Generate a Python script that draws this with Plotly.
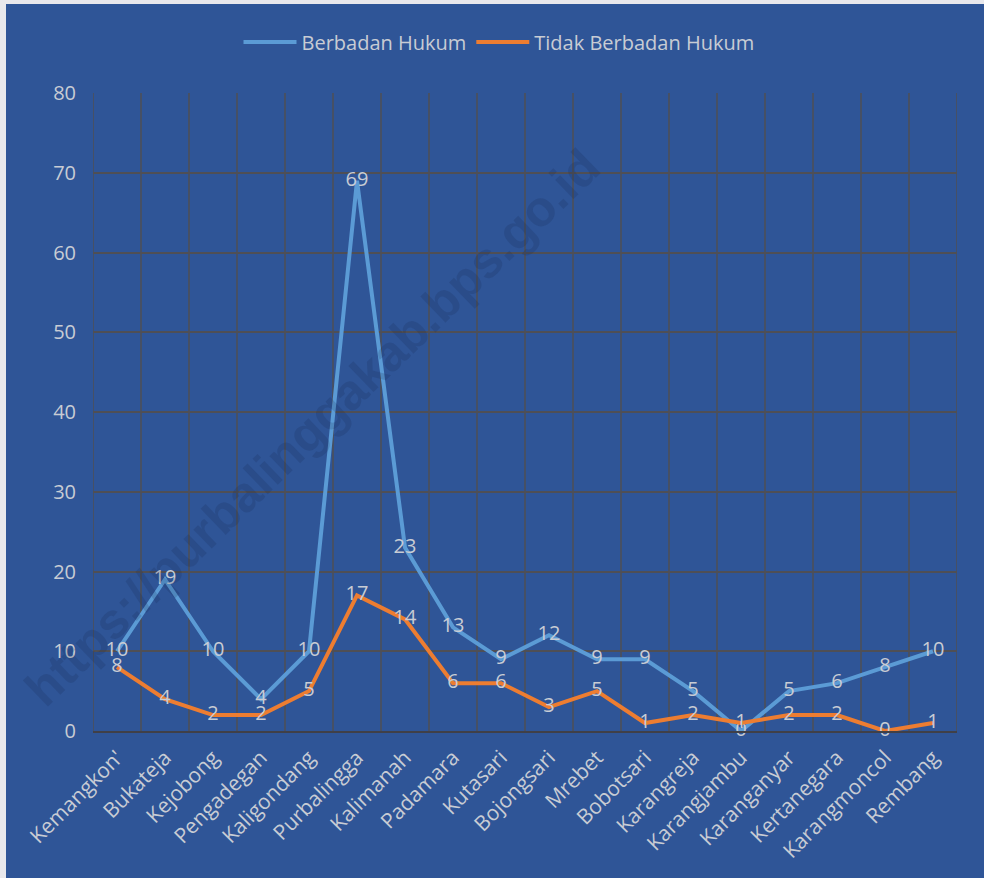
import plotly.graph_objects as go

categories = ["Kemangkon'", "Bukateja", "Kejobong", "Pengadegan", "Kaligondang", "Purbalingga",
              "Kalimanah", "Padamara", "Kutasari", "Bojongsari", "Mrebet", "Bobotsari",
              "Karangreja", "Karangjambu", "Karanganyar", "Kertanegara", "Karangmoncol", "Rembang"]
berbadan_hukum = [10, 19, 10, 4, 10, 69, 23, 13, 9, 12, 9, 9, 5, 0, 5, 6, 8, 10]
tidak_berbadan_hukum = [8, 4, 2, 2, 5, 17, 14, 6, 6, 3, 5, 1, 2, 1, 2, 2, 0, 1]
y_ticks = [0, 10, 20, 30, 40, 50, 60, 70, 80]

BG = "#2F5597"
TXT = "#C8CCD4"
GRID = "#4F4F55"
FONT = "Open Sans"

W, H = 984, 878
L, R, T, B = 93, 27, 93, 147
pw, ph = W - L - R, H - T - B

fig = go.Figure()
fig.add_trace(go.Scatter(
    x=list(range(len(categories))), y=berbadan_hukum, name="Berbadan Hukum",
    mode="lines+text", text=[str(v) for v in berbadan_hukum], textposition="middle center",
    textfont=dict(color=TXT, size=20, family=FONT),
    line=dict(color="#5B9BD5", width=4), cliponaxis=False))
fig.add_trace(go.Scatter(
    x=list(range(len(categories))), y=tidak_berbadan_hukum, name="Tidak Berbadan Hukum",
    mode="lines+text", text=[str(v) for v in tidak_berbadan_hukum], textposition="middle center",
    textfont=dict(color=TXT, size=20, family=FONT),
    line=dict(color="#ED7D31", width=4), cliponaxis=False))

shapes = []
# figure background (light strip left/top like the reference)
shapes.append(dict(type="rect", xref="paper", yref="paper",
                   x0=(6 - L) / pw, x1=(W - L + 5) / pw, y0=-(B + 5) / ph, y1=(ph + T - 4) / ph,
                   fillcolor=BG, line=dict(width=0), layer="below"))
# vertical category-boundary gridlines
for i in range(len(categories) + 1):
    shapes.append(dict(type="line", xref="x", yref="paper", x0=i - 0.5, x1=i - 0.5, y0=0, y1=1,
                       line=dict(color=GRID, width=1.5), layer="below"))

fig.add_annotation(
    text="<b>https://purbalinggakab.bps.go.id</b>", xref="paper", yref="paper",
    x=(312 - L) / pw, y=(H - B - 428) / ph, xanchor="center", yanchor="middle",
    showarrow=False, textangle=-44,
    font=dict(size=50, color="rgba(20,30,70,0.16)", family="Liberation Sans"))

fig.update_layout(
    width=W, height=H, margin=dict(l=L, r=R, t=T, b=B, autoexpand=False),
    paper_bgcolor="#E8E8EC", plot_bgcolor="rgba(0,0,0,0)",
    font=dict(family=FONT, color=TXT, size=20),
    showlegend=True,
    legend=dict(orientation="h", x=(499 - L) / pw, xanchor="center", y=1 + (93 - 42) / ph,
                yanchor="middle", font=dict(size=20, color=TXT, family=FONT),
                itemwidth=53, bgcolor="rgba(0,0,0,0)", traceorder="normal"),
    shapes=shapes,
    xaxis=dict(range=[-0.5, len(categories) - 0.5], tickmode="array",
               tickvals=list(range(len(categories))), ticktext=categories,
               tickangle=-45, showgrid=False, zeroline=False,
               showline=True, linecolor="#404048", linewidth=2,
               tickfont=dict(size=21, color=TXT, family=FONT), ticks="", ticklabelstandoff=4),
    yaxis=dict(range=[0, 80], tickmode="array", tickvals=y_ticks,
               showgrid=True, gridcolor=GRID, gridwidth=1.5, zeroline=False,
               showline=False, tickfont=dict(size=20, color=TXT, family=FONT), ticks="",
               ticklabelstandoff=16),
)

fig.write_html("out.html", config={"displayModeBar": False},
               post_script="document.body.style.margin='0';")
